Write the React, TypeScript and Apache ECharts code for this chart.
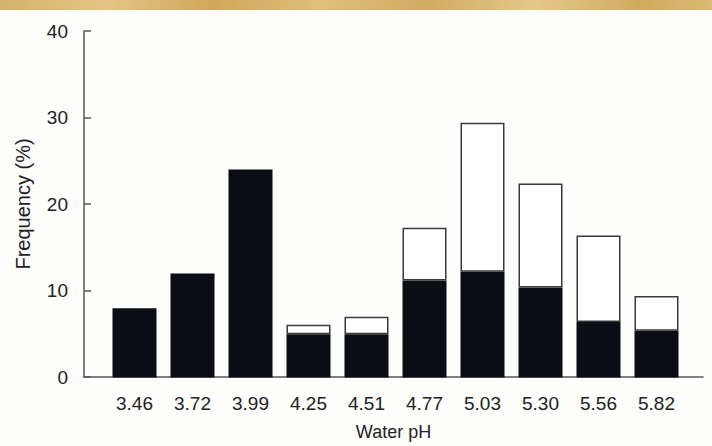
import React, { useEffect, useRef } from "react";
import * as echarts from "echarts";

const categories = ["3.46", "3.72", "3.99", "4.25", "4.51", "4.77", "5.03", "5.30", "5.56", "5.82"];
// lower (black) portion of each bar, %
const darkValues = [8, 12, 24, 5, 5, 11.2, 12.2, 10.4, 6.4, 5.4];
// upper (open) portion stacked on top, %
const openValues = [0, 0, 0, 1.1, 2, 6.1, 17.2, 12, 10, 4];
const yTicks = [0, 10, 20, 30, 40];

const FONT = "'Liberation Sans', Arial, Helvetica, sans-serif";
const TEXT = "#222222";

export default function App() {
  const ref = useRef<HTMLDivElement>(null);
  useEffect(() => {
    document.body.style.margin = "0";
    const chart = echarts.init(ref.current!, null, { renderer: "svg" });
    const top = 31;
    const bottom = 68.5;
    chart.setOption({
      animation: false,
      backgroundColor: "#fdfdfc",
      textStyle: { fontFamily: FONT },
      graphic: [
        {
          type: "rect",
          shape: { x: 0, y: 0, width: 712, height: 10 },
          style: {
            fill: new echarts.graphic.LinearGradient(0, 0, 1, 0, [
              { offset: 0, color: "#d6b26a" },
              { offset: 0.15, color: "#e3c585" },
              { offset: 0.3, color: "#cfa75c" },
              { offset: 0.45, color: "#e0bf7c" },
              { offset: 0.6, color: "#d2ab62" },
              { offset: 0.75, color: "#e4c88a" },
              { offset: 0.9, color: "#d1aa60" },
              { offset: 1, color: "#dcba74" },
            ]),
          },
          z: 10,
        },
      ],
      grid: [
        { left: 105.5, right: 26.5, top, bottom },
        { left: 84, right: 9, top, bottom },
      ],
      xAxis: [
        {
          type: "category",
          gridIndex: 0,
          data: categories,
          axisLine: { show: false },
          axisTick: { show: false },
          axisLabel: { fontSize: 19, color: TEXT, margin: 16, fontFamily: FONT },
        },
        {
          type: "value",
          gridIndex: 1,
          min: 0,
          max: 1,
          axisLine: { show: true, lineStyle: { color: "#555", width: 1.5 } },
          axisTick: { show: false },
          axisLabel: { show: false },
          splitLine: { show: false },
          name: "Water pH",
          nameLocation: "middle",
          nameGap: 46,
          nameTextStyle: { fontSize: 18, color: TEXT, fontFamily: FONT },
        },
      ],
      yAxis: [
        {
          type: "value",
          gridIndex: 0,
          min: 0,
          max: 40,
          interval: 10,
          show: false,
        },
        {
          type: "value",
          gridIndex: 1,
          min: 0,
          max: 40,
          interval: 10,
          axisLine: { show: true, lineStyle: { color: "#555", width: 1.5 } },
          axisTick: { show: true, inside: true, length: 7, lineStyle: { color: "#555", width: 1.5 } },
          axisLabel: {
            fontSize: 19,
            color: TEXT,
            margin: 16,
            fontFamily: FONT,
            customValues: yTicks,
          },
          splitLine: { show: false },
          name: "Frequency (%)",
          nameLocation: "middle",
          nameRotate: 90,
          nameGap: 51,
          nameTextStyle: { fontSize: 20, color: TEXT, fontFamily: FONT },
        },
      ],
      series: [
        {
          type: "bar",
          xAxisIndex: 0,
          yAxisIndex: 0,
          stack: "ph",
          barWidth: 44,
          data: darkValues,
          itemStyle: { color: "#0b0d14" },
        },
        {
          type: "bar",
          xAxisIndex: 0,
          yAxisIndex: 0,
          stack: "ph",
          barWidth: 44,
          data: openValues.map((v) => (v > 0 ? v : null)),
          itemStyle: { color: "#ffffff", borderColor: "#3a3a3a", borderWidth: 1.5 },
        },
      ],
    });
    return () => chart.dispose();
  }, []);
  return <div ref={ref} style={{ width: 712, height: 446 }} />;
}
